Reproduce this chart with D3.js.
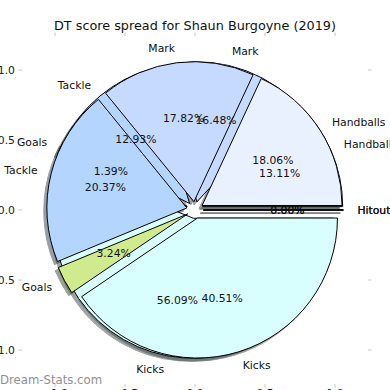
<!DOCTYPE html>
<html>
<head>
<meta charset="utf-8">
<script src="https://cdn.jsdelivr.net/npm/d3@7"></script>
<style>
  body { margin: 0; background: #fff; }
  svg { display: block; font-family: "DejaVu Sans", sans-serif; }
</style>
</head>
<body>
<div id="chart_here"></div>
<script>
// wedge order as the source plots them (counter-clockwise from east)
const categories = ["Handballs", "Mark", "Tackle", "Goals", "Kicks", "Hitout"];
// drawn underneath
const seriesBack = [13.11, 16.48, 12.93, 1.39, 56.09, 0.00];
// drawn on top
const seriesFront = [18.06, 17.82, 20.37, 3.24, 40.51, 0.00];
const sliceColors = ["#eaf1fe", "#c6d9fe", "#b4d5fe", "#d0eb8d", "#d9fefe", "#fed9d9"];
const axisTicks = [-1.0, -0.5, 0.0, 0.5, 1.0];
const titleText = "DT score spread for Shaun Burgoyne (2019)";

function drawpie(){
    const width = 390, height = 390;
    const explode = 0.06;
    const labelDist = 1.1, pctDist = 0.6;
    const shadowOff = 0.022;
    const fs = '10.8px';

    const svg = d3.select('#chart_here')
        .append('svg')
        .attr('width', width)
        .attr('height', height);

    // data units -> pixels, pie of radius 1 centred at 0,0
    const x = d3.scaleLinear().domain([-1, 1]).range([55, 335]);
    const y = d3.scaleLinear().domain([-1, 1]).range([350, 70]);
    const frame = {left: x(-1.236), right: x(1.236), top: y(1.243), bottom: y(-1.243)};
    const rpx = x(1) - x(0);

    // ticks round the (hidden) axes frame
    const tickCol = "#c8c8c8", tickLen = 3.5;
    const tk = svg.append('g');
    axisTicks.forEach(t => {
        tk.append('line').attr('x1', frame.left - tickLen).attr('x2', frame.left).attr('y1', y(t)).attr('y2', y(t)).attr('stroke', tickCol);
        tk.append('line').attr('x1', frame.right).attr('x2', frame.right + tickLen).attr('y1', y(t)).attr('y2', y(t)).attr('stroke', tickCol);
        tk.append('line').attr('x1', x(t)).attr('x2', x(t)).attr('y1', frame.top - tickLen).attr('y2', frame.top).attr('stroke', tickCol);
        tk.append('line').attr('x1', x(t)).attr('x2', x(t)).attr('y1', frame.bottom).attr('y2', frame.bottom + tickLen).attr('stroke', tickCol);
        tk.append('text').attr('x', frame.left - tickLen - 3.5).attr('y', y(t))
            .attr('text-anchor', 'end').attr('dominant-baseline', 'central')
            .style('font-size', fs).attr('fill', '#222')
            .text(d3.format('.1f')(t).replace('-', '\u2212'));
        tk.append('text').attr('x', x(t)).attr('y', frame.bottom + tickLen + 1.5)
            .attr('text-anchor', 'middle').attr('dominant-baseline', 'hanging')
            .style('font-size', fs).attr('fill', '#222')
            .text(d3.format('.1f')(t).replace('-', '\u2212'));
    });

    // matplotlib style angles: start at east, go counter-clockwise
    function wedges(values){
        const total = d3.sum(values);
        let acc = 0;
        return values.map((v, i) => {
            const t1 = acc / total * 2 * Math.PI;
            acc += v;
            const t2 = acc / total * 2 * Math.PI;
            const tm = (t1 + t2) / 2;
            return {cat: categories[i], value: v, pct: v / total * 100, t1: t1, t2: t2, tm: tm,
                    cx: explode * Math.cos(tm), cy: explode * Math.sin(tm), color: sliceColors[i]};
        });
    }
    const back = wedges(seriesBack);
    const front = wedges(seriesFront);

    const arc = d3.arc().innerRadius(0).outerRadius(rpx)
        .startAngle(d => Math.PI / 2 - d.t2)
        .endAngle(d => Math.PI / 2 - d.t1);

    function dark(c){
        const r = d3.rgb(c);
        return d3.rgb(r.r * 0.3, r.g * 0.3, r.b * 0.3).toString();
    }

    // shadows sit under every wedge
    const shadows = svg.append('g');
    [back, front].forEach(set => {
        shadows.selectAll(null).data(set).enter().append('path')
            .attr('d', arc)
            .attr('transform', d => 'translate(' + x(d.cx - shadowOff) + ',' + y(d.cy - shadowOff) + ')')
            .attr('fill', d => dark(d.color))
            .attr('stroke', d => dark(d.color))
            .attr('stroke-width', 1)
            .attr('opacity', 0.5);
    });

    [back, front].forEach(set => {
        svg.append('g').selectAll('path').data(set).enter().append('path')
            .attr('d', arc)
            .attr('transform', d => 'translate(' + x(d.cx) + ',' + y(d.cy) + ')')
            .attr('fill', d => d.color)
            .attr('stroke', '#000')
            .attr('stroke-width', 1)
            .attr('stroke-linejoin', 'miter');
    });

    // labels and percentages on top
    const txt = svg.append('g').style('font-size', fs).attr('fill', '#111');
    [back, front].forEach(set => {
        set.forEach(d => {
            const lx = d.cx + labelDist * Math.cos(d.tm);
            const ly = d.cy + labelDist * Math.sin(d.tm);
            txt.append('text')
                .attr('x', x(lx)).attr('y', y(ly))
                .attr('text-anchor', lx > 0 ? 'start' : 'end')
                .attr('dominant-baseline', 'central')
                .text(d.cat);
            txt.append('text')
                .attr('x', x(d.cx + pctDist * Math.cos(d.tm)))
                .attr('y', y(d.cy + pctDist * Math.sin(d.tm)))
                .attr('text-anchor', 'middle')
                .attr('dominant-baseline', 'central')
                .text(d.pct.toFixed(2) + '%');
        });
    });

    svg.append('text')
        .attr('x', x(0)).attr('y', 30)
        .attr('text-anchor', 'middle')
        .style('font-size', '12.8px')
        .attr('fill', '#111')
        .text(titleText);

    svg.append('text')
        .attr('x', 0).attr('y', 384)
        .style('font-size', '11.7px')
        .attr('fill', '#8f8f8f')
        .text('Dream-Stats.com');
}

window.addEventListener('load', drawpie);
</script>
</body>
</html>
